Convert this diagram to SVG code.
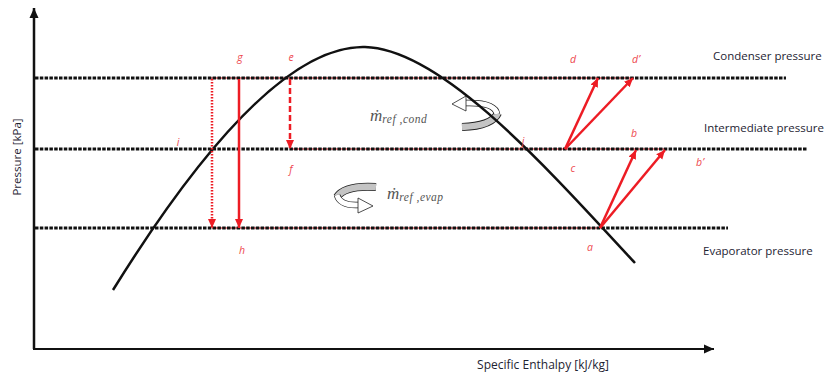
<svg xmlns="http://www.w3.org/2000/svg" width="825" height="376" viewBox="0 0 825 376">
<defs>
<marker id="ah" markerUnits="userSpaceOnUse" markerWidth="10" markerHeight="10" refX="9" refY="5" orient="auto"><path d="M0,1 L9,5 L0,9 Z" fill="#ed1c24"/></marker>
<marker id="bk" markerUnits="userSpaceOnUse" markerWidth="12" markerHeight="12" refX="10" refY="6" orient="auto"><path d="M0,1.5 L10,6 L0,10.5 Z" fill="#111"/></marker>
<style>
.lvl{stroke:#111;stroke-width:3;stroke-dasharray:3.5 1.3;fill:none}
.redl{stroke:#ed1c24;stroke-width:1.2;fill:none}
.arr{stroke:#ed1c24;stroke-width:2.5;fill:none;marker-end:url(#ah)}
.lab{font-family:"Open Sans","Liberation Sans",sans-serif;font-style:italic;font-size:10.5px;fill:#ee4a50;text-anchor:middle}
.txt{font-family:"Open Sans","Liberation Sans",sans-serif;font-size:11.5px;fill:#1e2433}
.md{font-family:"Liberation Serif",serif;font-style:italic;fill:#555}
</style>
</defs>
<rect width="825" height="376" fill="#fff"/>
<g id="axes">
<line x1="34" y1="349" x2="34" y2="8" stroke="#111" stroke-width="2.5" marker-end="url(#bk)"/>
<line x1="33" y1="349" x2="714" y2="349" stroke="#111" stroke-width="2" marker-end="url(#bk)"/>
<text class="txt" transform="translate(21,157) rotate(-90)" text-anchor="middle" style="font-size:11.5px">Pressure [kPa]</text>
<text class="txt" x="543" y="369" text-anchor="middle" style="font-size:12px">Specific Enthalpy [kJ/kg]</text>
</g>
<g id="red-lines">
<line class="redl" x1="210" y1="78" x2="634" y2="78"/>
<line class="redl" x1="290" y1="149" x2="666" y2="149"/>
<line class="redl" x1="212" y1="228" x2="600" y2="228"/>
</g>
<g id="pressure-levels">
<line class="lvl" x1="35" y1="78" x2="786" y2="78"/>
<line class="lvl" x1="35" y1="149" x2="807" y2="149"/>
<line class="lvl" x1="35" y1="228" x2="728" y2="228"/>
<text class="txt" x="713" y="60">Condenser pressure</text>
<text class="txt" x="704" y="132">Intermediate pressure</text>
<text class="txt" x="703" y="255">Evaporator pressure</text>
</g>
<g id="flow-arrows">
<path d="M462,127 Q492,126 498,113" stroke="#222" stroke-width="8" fill="none"/>
<path d="M462,127 Q492,126 498,113" stroke="#c4c4c4" stroke-width="6.4" fill="none"/>
<path d="M497,114 Q495,102 465,103" stroke="#222" stroke-width="6.5" fill="none"/>
<path d="M497,114 Q495,102 465,103" stroke="#fff" stroke-width="5" fill="none"/>
<path d="M452,104 L466,96 L466,111 Z" fill="#fff" stroke="#222" stroke-width="0.8"/>
<path d="M376,187 Q345,185 337,197" stroke="#222" stroke-width="8" fill="none"/>
<path d="M376,187 Q345,185 337,197" stroke="#c4c4c4" stroke-width="6.4" fill="none"/>
<path d="M337,195 Q340,206 359,205" stroke="#222" stroke-width="6.5" fill="none"/>
<path d="M337,195 Q340,206 359,205" stroke="#fff" stroke-width="5" fill="none"/>
<path d="M373,206 L358,198 L358,213 Z" fill="#fff" stroke="#222" stroke-width="0.8"/>
<text class="md" x="370" y="121"><tspan font-size="17">ṁ</tspan><tspan font-size="11.5" dy="2" letter-spacing="0.5">ref ,cond</tspan></text>
<text class="md" x="387" y="199"><tspan font-size="17">ṁ</tspan><tspan font-size="11.5" dy="2" letter-spacing="0.5">ref ,evap</tspan></text>
</g>
<g id="dome">
<path d="M113,290 C200,150 290,45 365,47 C440,49 540,160 635,263" stroke="#111" stroke-width="2.5" fill="none"/>
</g>
<g id="connectors">
<line class="arr" x1="212" y1="79" x2="212" y2="228" stroke-dasharray="1.5 1.5" stroke-width="2"/>
<line class="arr" x1="239" y1="79" x2="239" y2="228"/>
<line class="arr" x1="290" y1="79" x2="290" y2="149" stroke-dasharray="6 3"/>
<line class="arr" x1="565" y1="149" x2="598" y2="78"/>
<line class="arr" x1="565" y1="149" x2="633" y2="78"/>
<line class="arr" x1="600" y1="228" x2="636" y2="150"/>
<line class="arr" x1="600" y1="228" x2="665" y2="150"/>
</g>
<g id="labels">
<text class="lab" x="240" y="61">g</text>
<text class="lab" x="291" y="61">e</text>
<text class="lab" x="291" y="173">f</text>
<text class="lab" x="242" y="254">h</text>
<text class="lab" x="178" y="146">i</text>
<text class="lab" x="523" y="145">j</text>
<text class="lab" x="573" y="63">d</text>
<text class="lab" x="636" y="63">d’</text>
<text class="lab" x="634" y="137">b</text>
<text class="lab" x="573" y="172">c</text>
<text class="lab" x="700" y="166">b’</text>
<text class="lab" x="590" y="251">a</text>
</g>
</svg>
